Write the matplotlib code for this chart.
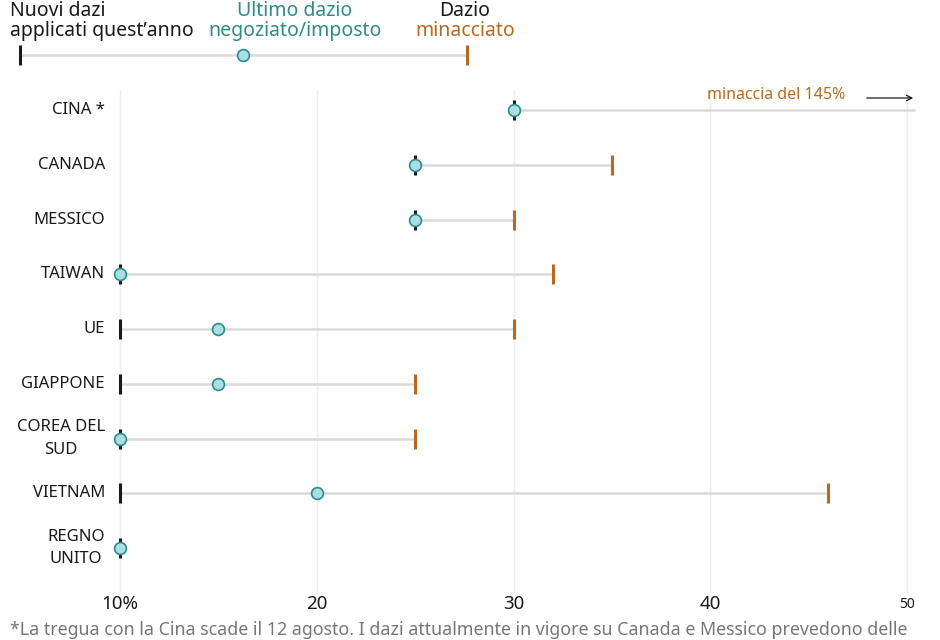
import matplotlib.pyplot as plt
from matplotlib.lines import Line2D

plt.rcParams['font.family'] = ['Noto Sans', 'DejaVu Sans']

# data
paesi = ["CINA *", "CANADA", "MESSICO", "TAIWAN", "UE", "GIAPPONE",
         "COREA DEL\nSUD", "VIETNAM", "REGNO\nUNITO"]
nuovi = [30, 25, 25, 10, 10, 10, 10, 10, 10]
ultimo = [30, 25, 25, 10, 15, 15, 10, 20, 10]
minacciato = [145, 35, 30, 32, 30, 25, 25, 46, None]
xticks = [10, 20, 30, 40, 50]
xtick_labels = ["10%", "20", "30", "40", "50"]

BLACK = "#1a1a1a"
ORANGE = "#b8691f"
TEAL = "#2f8a8c"
FILL = "#a9dfe2"
LINE = "#dadada"
GRID = "#ececec"

W, H = 940, 640
fig = plt.figure(figsize=(W / 100, H / 100), dpi=100)
ax = fig.add_axes([0, 0, 1, 1])
ax.axis("off")

# pixel mapping: 10 -> 120px, 50 -> 907px
ppu = (907 - 120) / 40.0
x0 = 10 - 120 / ppu
x1 = 10 + (W - 120) / ppu
row0, rowstep = 110, 54.75
ax.set_xlim(x0, x1)
ax.set_ylim((H - row0) / rowstep, -row0 / rowstep)
xmax_line = 10 + (915 - 120) / ppu

def py(p):
    return (p - row0) / rowstep

def px(p):
    return x0 + p / ppu

# grid
for t in xticks:
    ax.plot([t, t], [py(90), py(592)], color=GRID, lw=1, zorder=0)

for i, name in enumerate(paesi):
    lo = min(nuovi[i], ultimo[i])
    hi = minacciato[i] if minacciato[i] is not None else max(nuovi[i], ultimo[i])
    hi_draw = min(hi, xmax_line)
    if hi_draw > lo:
        ax.plot([lo, hi_draw], [i, i], color=LINE, lw=1.8, zorder=1,
                solid_capstyle="butt")
    ax.plot(nuovi[i], i, marker="|", ms=15, mew=2.2, color=BLACK, zorder=3)
    if minacciato[i] is not None and minacciato[i] <= xmax_line:
        ax.plot(minacciato[i], i, marker="|", ms=15, mew=2.2, color=ORANGE, zorder=3)
    ax.plot(ultimo[i], i, marker="o", ms=8.5, mfc=FILL, mec=TEAL, mew=1.2, zorder=4)
    ax.text(px(105), i, name, ha="right", va="center", multialignment="center",
            fontsize=12, color=BLACK, linespacing=1.55)

# China annotation
ax.text(px(845), py(95), "minaccia del 145%", ha="right", va="center",
        fontsize=11.5, color=ORANGE)
ax.annotate("", xy=(px(916), py(98)), xytext=(px(864), py(98)),
            arrowprops=dict(arrowstyle="->", color=BLACK, lw=0.9))

# x tick labels
for t, lab in zip(xticks, xtick_labels):
    ax.text(t, py(604), lab, ha="center", va="center",
            fontsize=10 if t == 50 else 13.5, color=BLACK)

# legend (figure pixels)
def fx(p):
    return p / W

def fy(p):
    return 1 - p / H

ly = fy(55)
fig.add_artist(Line2D([fx(20), fx(467)], [ly, ly], color=LINE, lw=1.8, zorder=1))
fig.add_artist(Line2D([fx(20)], [ly], marker="|", ms=15, mew=2.2, color=BLACK))
fig.add_artist(Line2D([fx(467)], [ly], marker="|", ms=15, mew=2.2, color=ORANGE))
fig.add_artist(Line2D([fx(243)], [ly], marker="o", ms=8.5, mfc=FILL, mec=TEAL, mew=1.2))

fig.text(fx(10), fy(11), "Nuovi dazi", ha="left", va="center", fontsize=14, color=BLACK)
fig.text(fx(10), fy(31), "applicati quest\u2019anno", ha="left", va="center",
         fontsize=14, color=BLACK)
fig.text(fx(295), fy(11), "Ultimo dazio", ha="center", va="center", fontsize=14, color=TEAL)
fig.text(fx(295), fy(31), "negoziato/imposto", ha="center", va="center",
         fontsize=14, color=TEAL)
fig.text(fx(465), fy(11), "Dazio", ha="center", va="center", fontsize=14, color=BLACK)
fig.text(fx(465), fy(31), "minacciato", ha="center", va="center", fontsize=14, color=ORANGE)

# footnote
fig.text(fx(10), fy(630), "*La tregua con la Cina scade il 12 agosto. I dazi attualmente "
         "in vigore su Canada e Messico prevedono delle", ha="left", va="center",
         fontsize=12.8, color="#777777")

fig.savefig("out.png", dpi=100)
